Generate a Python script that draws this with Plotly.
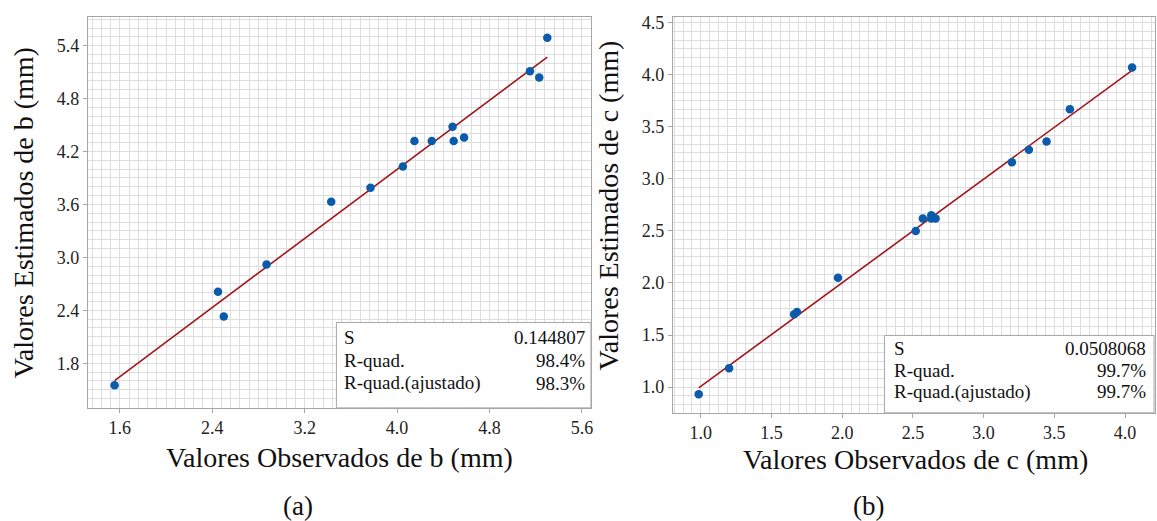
import numpy as np
import plotly.graph_objects as go

# ---------------- data ----------------
# Panel (a): b
b_obs = [5.30, 5.15, 5.23, 4.48, 4.15, 4.30, 4.49, 4.58, 4.05, 3.77, 3.43, 2.87, 2.45, 2.50, 1.555]
b_est = [5.49, 5.11, 5.04, 4.48, 4.32, 4.32, 4.32, 4.36, 4.03, 3.79, 3.63, 2.92, 2.61, 2.33, 1.55]
# Panel (b): c
c_obs = [4.05, 3.61, 3.445, 3.32, 3.20, 2.52, 2.57, 2.63, 2.63, 2.66, 1.97, 1.68, 1.66, 1.20, 0.985]
c_est = [4.07, 3.67, 3.36, 3.28, 3.16, 2.50, 2.62, 2.65, 2.62, 2.62, 2.05, 1.72, 1.70, 1.18, 0.93]

b_ticks = [1.6, 2.4, 3.2, 4.0, 4.8, 5.6]
b_yticks = [1.8, 2.4, 3.0, 3.6, 4.2, 4.8, 5.4]
c_ticks = [1.0, 1.5, 2.0, 2.5, 3.0, 3.5, 4.0]
c_yticks = [1.0, 1.5, 2.0, 2.5, 3.0, 3.5, 4.0, 4.5]

stat_labels = ["S", "R-quad.", "R-quad.(ajustado)"]
b_stats = ["0.144807", "98.4%", "98.3%"]
c_stats = ["0.0508068", "99.7%", "99.7%"]

x_title_a = "Valores Observados de b (mm)"
y_title_a = "Valores Estimados de b (mm)"
x_title_b = "Valores Observados de c (mm)"
y_title_b = "Valores Estimados de c (mm)"

# ---------------- layout helpers ----------------
W, H = 1157, 521
def px(x):
    return x / W
def py(y):
    return 1 - y / H

FONT = "Liberation Serif"
BLUE = "#0a5bab"
RED = "#a3141c"
GRID = "#dedede"
FRAME = "#a6a6a6"

fig = go.Figure()

def fit_line(xs, ys):
    k, c0 = np.polyfit(xs, ys, 1)
    xx = np.array([min(xs), max(xs)])
    return xx, k * xx + c0

for xs, ys, xa, ya in [(b_obs, b_est, "x", "y"), (c_obs, c_est, "x2", "y2")]:
    lx, ly = fit_line(xs, ys)
    fig.add_trace(go.Scatter(x=lx, y=ly, mode="lines", line=dict(color=RED, width=1.6),
                             xaxis=xa, yaxis=ya, showlegend=False, hoverinfo="skip"))
    fig.add_trace(go.Scatter(x=xs, y=ys, mode="markers", marker=dict(color=BLUE, size=8.5),
                             xaxis=xa, yaxis=ya, showlegend=False))

def axis(domain, rng, tickvals, minor_dtick, tick0, anchor):
    return dict(
        domain=domain, range=rng, tickvals=tickvals,
        ticktext=[f"{v:.1f}" for v in tickvals],
        showgrid=True, gridcolor=GRID, gridwidth=1,
        minor=dict(dtick=minor_dtick, tick0=tick0, showgrid=True, gridcolor=GRID, gridwidth=1, ticks=""),
        showline=True, mirror=True, linecolor=FRAME, linewidth=1,
        ticks="outside", ticklen=4, tickcolor=FRAME,
        tickfont=dict(family=FONT, size=18, color="#222222"),
        zeroline=False, anchor=anchor,
    )

fig.update_layout(
    width=W, height=H,
    margin=dict(l=0, r=0, t=0, b=0),
    paper_bgcolor="white", plot_bgcolor="white",
    font=dict(family=FONT),
    xaxis=axis([px(88), px(592)], [1.3235, 5.678], b_ticks, 0.08, 1.6, "y"),
    yaxis=axis([py(407), py(13)], [1.294, 5.726], b_yticks, 0.1, 1.8, "x"),
    xaxis2=axis([px(674), 1.0], [0.802, 4.212], c_ticks, 0.0625, 1.0, "y2"),
    yaxis2=axis([py(412), py(13)], [0.752, 4.557], c_yticks, 0.5 / 6, 1.0, "x2"),
)

# stats boxes
fig.add_shape(type="rect", xref="paper", yref="paper", x0=px(337), x1=px(592), y0=py(407), y1=py(321),
              fillcolor="white", line=dict(color=FRAME, width=1), layer="above")
fig.add_shape(type="rect", xref="paper", yref="paper", x0=px(886), x1=px(1156), y0=py(412), y1=py(334),
              fillcolor="white", line=dict(color=FRAME, width=1), layer="above")

def stat_text(labels, vals, xl, xr, ys):
    for lab, val, y in zip(labels, vals, ys):
        fig.add_annotation(x=px(xl), y=py(y), xref="paper", yref="paper", text=lab, showarrow=False,
                           xanchor="left", yanchor="middle", font=dict(family=FONT, size=19, color="#111111"))
        fig.add_annotation(x=px(xr), y=py(y), xref="paper", yref="paper", text=val, showarrow=False,
                           xanchor="right", yanchor="middle", font=dict(family=FONT, size=19, color="#111111"))

stat_text(stat_labels, b_stats, 343, 588, [336, 359, 382])
stat_text(stat_labels, c_stats, 894, 1150, [347, 369, 391])

def text(t, x, y, size, angle=0):
    fig.add_annotation(x=px(x), y=py(y), xref="paper", yref="paper", text=t, showarrow=False,
                       xanchor="center", yanchor="middle", textangle=angle,
                       font=dict(family=FONT, size=size, color="#111111"))

text(x_title_a, 340, 457, 28)
text(y_title_a, 23, 210, 28, -90)
text(x_title_b, 917, 459, 28)
text(y_title_b, 609, 203, 28, -90)
text("(a)", 299, 506, 27)
text("(b)", 870, 506, 27)

fig.write_html("out.html")
